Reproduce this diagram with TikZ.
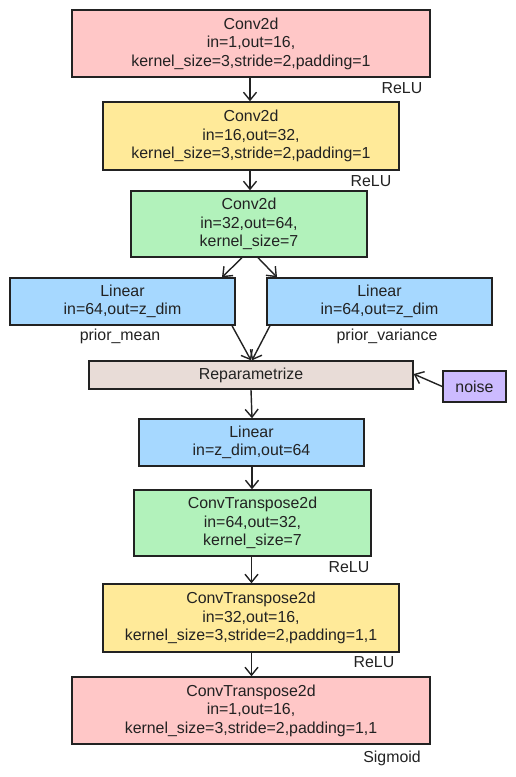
\documentclass[tikz,border=0pt]{standalone}
\usepackage{fontspec}
\setmainfont{Liberation Sans}
\usetikzlibrary{arrows.meta}
\definecolor{cpink}{RGB}{255,199,199}
\definecolor{cyellow}{RGB}{255,234,153}
\definecolor{cgreen}{RGB}{178,242,187}
\definecolor{cblue}{RGB}{166,216,255}
\definecolor{cbeige}{RGB}{232,220,215}
\definecolor{clav}{RGB}{204,187,255}
\definecolor{cline}{RGB}{34,34,34}
\tikzset{
  blk/.style={draw=cline, line width=1.4pt, inner sep=0pt, align=center,
    font=\fontsize{15.9}{18.5}\selectfont, text=cline},
  lbl/.style={inner sep=0pt, font=\fontsize{15.9}{18.5}\selectfont, text=cline},
  conn/.style={draw=cline, line width=1.4pt, -{Straight Barb[length=8pt,width=13pt,line width=1.4pt]}}
}
\begin{document}
\begin{tikzpicture}[x=1pt,y=-1pt]
\useasboundingbox (0,0) rectangle (516,777);
\node[blk, fill=cpink, minimum width=358pt, minimum height=67pt] (c1) at (251,43.5)
  {Conv2d\\in=1,out=16,\\kernel\_size=3,stride=2,padding=1};
\node[blk, fill=cyellow, minimum width=296pt, minimum height=68pt] (c2) at (251,136)
  {Conv2d\\in=16,out=32,\\kernel\_size=3,stride=2,padding=1};
\node[blk, fill=cgreen, minimum width=236pt, minimum height=66pt] (c3) at (249,224)
  {Conv2d\\in=32,out=64,\\kernel\_size=7};
\node[blk, fill=cblue, minimum width=225pt, minimum height=47pt] (l1) at (122.5,301.5)
  {Linear\\in=64,out=z\_dim};
\node[blk, fill=cblue, minimum width=225pt, minimum height=47pt] (l2) at (379.5,301.5)
  {Linear\\in=64,out=z\_dim};
\node[blk, fill=cbeige, minimum width=324pt, minimum height=28pt] (rep) at (251,375)
  {Reparametrize};
\node[blk, fill=clav, minimum width=63pt, minimum height=31pt] (noise) at (474.5,386.5)
  {noise};
\node[blk, fill=cblue, minimum width=225pt, minimum height=47pt] (lin) at (251.5,442.5)
  {Linear\\in=z\_dim,out=64};
\node[blk, fill=cgreen, minimum width=237pt, minimum height=66pt] (d1) at (252.5,523)
  {ConvTranspose2d\\in=64,out=32,\\kernel\_size=7};
\node[blk, fill=cyellow, minimum width=296pt, minimum height=68pt] (d2) at (251,618)
  {ConvTranspose2d\\in=32,out=16,\\kernel\_size=3,stride=2,padding=1,1};
\node[blk, fill=cpink, minimum width=358pt, minimum height=67pt] (d3) at (251,710.5)
  {ConvTranspose2d\\in=1,out=16,\\kernel\_size=3,stride=2,padding=1,1};

\node[lbl] (r1) at (402,88) {ReLU};
\node[lbl] (r2) at (371,181) {ReLU};
\node[lbl] (pm) at (120,336) {prior\_mean};
\node[lbl] (pv) at (387,336) {prior\_variance};
\node[lbl] (r3) at (349,567) {ReLU};
\node[lbl] (r4) at (374,662) {ReLU};
\node[lbl] (sg) at (392,758) {Sigmoid};

\draw[conn] ([xshift=-1pt]c1.south) -- ([xshift=-1pt]c2.north);
\draw[conn] ([xshift=-1pt]c2.south) -- ([xshift=1pt]c3.north);
\draw[conn] ([xshift=-7pt]c3.south) -- ([xshift=99.5pt]l1.north);
\draw[conn] ([xshift=9pt]c3.south) -- ([xshift=-102.5pt]l2.north);
\draw[conn] ([xshift=109.5pt]l1.south) -- ([xshift=0pt]rep.north);
\draw[conn] ([xshift=-109.5pt]l2.south) -- ([xshift=1pt]rep.north);
\draw[conn] (noise.west) -- ([yshift=1pt]rep.east);
\draw[conn] (rep.south) -- ([xshift=0.5pt]lin.north);
\draw[conn] ([xshift=0.5pt]lin.south) -- ([xshift=-0.5pt]d1.north);
\draw[conn] ([xshift=-1pt]d1.south) -- ([xshift=0.5pt]d2.north);
\draw[conn] ([xshift=0.5pt]d2.south) -- ([xshift=0.5pt]d3.north);
\end{tikzpicture}
\end{document}
